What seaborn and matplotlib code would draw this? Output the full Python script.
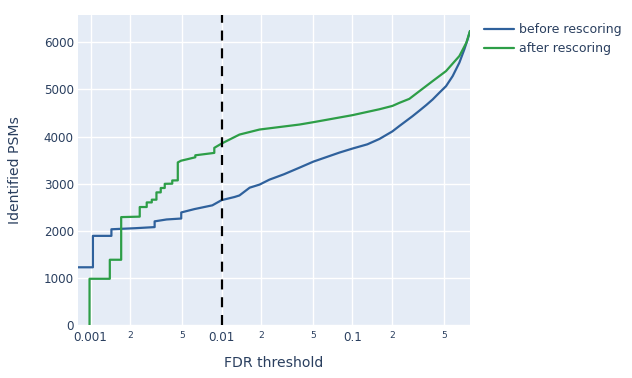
import matplotlib
matplotlib.use("Agg")
import matplotlib.pyplot as plt
import matplotlib.ticker as mticker
import seaborn as sns
import pandas as pd
import numpy as np

# ---- data (FDR threshold, identified PSMs) ----
before_fdr = [0.0008, 0.00104, 0.00104, 0.00144, 0.00144, 0.0022, 0.00308, 0.00308,
              0.0038, 0.00492, 0.00492, 0.0062, 0.0085, 0.0100, 0.01256, 0.0137,
              0.0164, 0.0195, 0.0232, 0.0300, 0.0394, 0.0503, 0.0796, 0.100,
              0.130, 0.161, 0.202, 0.2286, 0.287, 0.325, 0.367, 0.410, 0.461, 0.519,
              0.583, 0.656, 0.716, 0.759, 0.791]
before_psm = [1225, 1225, 1892, 1892, 2032, 2055, 2078, 2200,
              2240, 2260, 2389, 2460, 2540, 2650, 2717, 2750,
              2915, 2980, 3085, 3200, 3340, 3468, 3660, 3745,
              3835, 3950, 4110, 4225, 4430, 4550, 4670, 4787, 4930, 5070,
              5283, 5568, 5851, 6064, 6240]

after_fdr = [0.00098, 0.00098, 0.0014, 0.0014, 0.00171, 0.00171, 0.00237, 0.00237,
             0.00268, 0.00268, 0.00293, 0.00293, 0.00318, 0.00318, 0.00343, 0.00343,
             0.00368, 0.00368, 0.00420, 0.00420, 0.00463, 0.00463, 0.0049, 0.0055,
             0.0063, 0.0063, 0.0088, 0.0088, 0.0100, 0.0115, 0.0137, 0.0195,
             0.0394, 0.0503, 0.100, 0.161, 0.202, 0.2286, 0.272, 0.325, 0.410,
             0.519, 0.656, 0.742, 0.791]
after_psm = [0, 981, 981, 1385, 1385, 2290, 2300, 2504,
             2504, 2602, 2602, 2660, 2660, 2815, 2815, 2908,
             2908, 2997, 3000, 3068, 3070, 3451, 3487, 3520,
             3560, 3602, 3653, 3760, 3851, 3936, 4042, 4149,
             4255, 4305, 4454, 4580, 4650, 4716, 4800, 4964, 5177,
             5390, 5709, 5993, 6240]

series_names = ["before rescoring", "after rescoring"]
series_colors = ["#2f619c", "#2d9e47"]
fdr_cutoff = 0.01

x_major = [0.001, 0.01, 0.1]
x_major_labels = ["0.001", "0.01", "0.1"]
x_minor = [0.002, 0.005, 0.02, 0.05, 0.2, 0.5]
x_minor_labels = ["2", "5", "2", "5", "2", "5"]
y_ticks = [0, 1000, 2000, 3000, 4000, 5000, 6000]

df = pd.concat([
    pd.DataFrame({"fdr": before_fdr, "psm": before_psm, "series": series_names[0]}),
    pd.DataFrame({"fdr": after_fdr, "psm": after_psm, "series": series_names[1]}),
], ignore_index=True)

# ---- style ----
sns.set_theme(style="white")
plt.rcParams["font.family"] = ["DejaVu Sans"]
text_color = "#2a3f5f"

fig = plt.figure(figsize=(6.32, 3.78), dpi=100)
ax = fig.add_axes([78 / 632, 1 - 325 / 378, (470 - 78) / 632, (325 - 15) / 378])
ax.set_facecolor("#E5ECF6")

sns.lineplot(data=df, x="fdr", y="psm", hue="series", hue_order=series_names,
             palette=series_colors, estimator=None, sort=False, linewidth=1.6,
             ax=ax, legend=True, zorder=3)

ax.axvline(fdr_cutoff, color="black", linewidth=1.6, linestyle=(0, (4.5, 3.5)), zorder=4)

ax.set_xscale("log")
ax.set_xlim(0.0008, 0.791)
ax.set_ylim(0, 6580)

ax.xaxis.set_major_locator(mticker.FixedLocator(x_major))
ax.xaxis.set_major_formatter(mticker.FixedFormatter(x_major_labels))
ax.xaxis.set_minor_locator(mticker.FixedLocator(x_minor))
ax.xaxis.set_minor_formatter(mticker.FixedFormatter(x_minor_labels))
ax.yaxis.set_major_locator(mticker.FixedLocator(y_ticks))

ax.grid(True, which="both", axis="x", color="white", linewidth=1.0, zorder=0)
ax.grid(True, which="major", axis="y", color="white", linewidth=1.0, zorder=0)
ax.set_axisbelow(True)

ax.tick_params(axis="x", which="major", length=0, pad=4, labelsize=8.6, labelcolor=text_color)
ax.tick_params(axis="x", which="minor", length=0, pad=4, labelsize=6.6, labelcolor=text_color)
ax.tick_params(axis="y", which="major", length=0, pad=3, labelsize=8.6, labelcolor=text_color)

for s in ax.spines.values():
    s.set_visible(False)

ax.set_xlabel("FDR threshold", fontsize=10.1, color=text_color, labelpad=9)
ax.set_ylabel("Identified PSMs", fontsize=10.1, color=text_color, labelpad=15.5)

leg = ax.legend(loc="upper left", bbox_to_anchor=(484 / 632, 1 - 23 / 378),
                bbox_transform=fig.transFigure, frameon=False, fontsize=9.0,
                handlelength=2.4, handletextpad=0.4, labelspacing=0.5,
                borderaxespad=0, borderpad=0)
for t in leg.get_texts():
    t.set_color(text_color)
for h in leg.get_lines():
    h.set_linewidth(1.6)

fig.savefig("out.png", dpi=100)
